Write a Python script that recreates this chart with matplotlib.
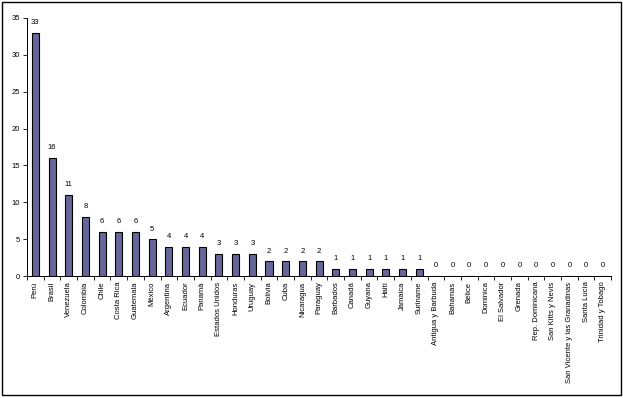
import matplotlib.pyplot as plt
from matplotlib.patches import Rectangle
import numpy as np

plt.rcParams['font.family'] = ['Liberation Sans', 'DejaVu Sans']

paises = ['Perú', 'Brasil', 'Venezuela', 'Colombia', 'Chile', 'Costa Rica',
          'Guatemala', 'México', 'Argentina', 'Ecuador', 'Panamá',
          'Estados Unidos', 'Honduras', 'Uruguay', 'Bolivia', 'Cuba',
          'Nicaragua', 'Paraguay', 'Barbados', 'Canadá', 'Guyana', 'Haití',
          'Jamaica', 'Suriname', 'Antigua y Barbuda', 'Bahamas', 'Belice',
          'Dominica', 'El Salvador', 'Grenada', 'Rep. Dominicana',
          'San Kitts y Nevis', 'San Vicente y las Granadinas', 'Santa Lucía',
          'Trinidad y Tobago']
valores = [33, 16, 11, 8, 6, 6, 6, 5, 4, 4, 4, 3, 3, 3, 2, 2, 2, 2,
           1, 1, 1, 1, 1, 1, 0, 0, 0, 0, 0, 0, 0, 0, 0, 0, 0]

fig = plt.figure(figsize=(6.23, 3.98), dpi=100)
ax = fig.add_axes([0.0433, 0.3065, 0.9377, 0.6485])

x = np.arange(len(paises))
ax.bar(x, valores, width=0.42, color='#666699', edgecolor='black', linewidth=0.8)

for xi, v in zip(x, valores):
    ax.text(xi, v + 0.9, str(v), ha='center', va='bottom', fontsize=5.5)

ax.set_xlim(-0.5, len(paises) - 0.5)
ax.set_ylim(0, 35)
ax.set_yticks(range(0, 36, 5))
ax.tick_params(axis='y', labelsize=5.5, length=3, width=0.6, direction='out', pad=2)

# etiquetas centradas, marcas entre categorias
ax.set_xticks(x)
ax.set_xticklabels(paises, rotation=90, fontsize=5.5)
ax.tick_params(axis='x', length=0, pad=4)
ax.set_xticks(np.arange(-0.5, len(paises), 1), minor=True)
ax.tick_params(axis='x', which='minor', length=3, width=0.6, direction='out')

for s in ['top', 'right']:
    ax.spines[s].set_visible(False)
for s in ['left', 'bottom']:
    ax.spines[s].set_linewidth(0.7)

fig.patches.append(Rectangle((0.004, 0.008), 0.992, 0.986, transform=fig.transFigure,
                             fill=False, edgecolor='black', linewidth=1.0))

plt.savefig('out.png', dpi=100)
